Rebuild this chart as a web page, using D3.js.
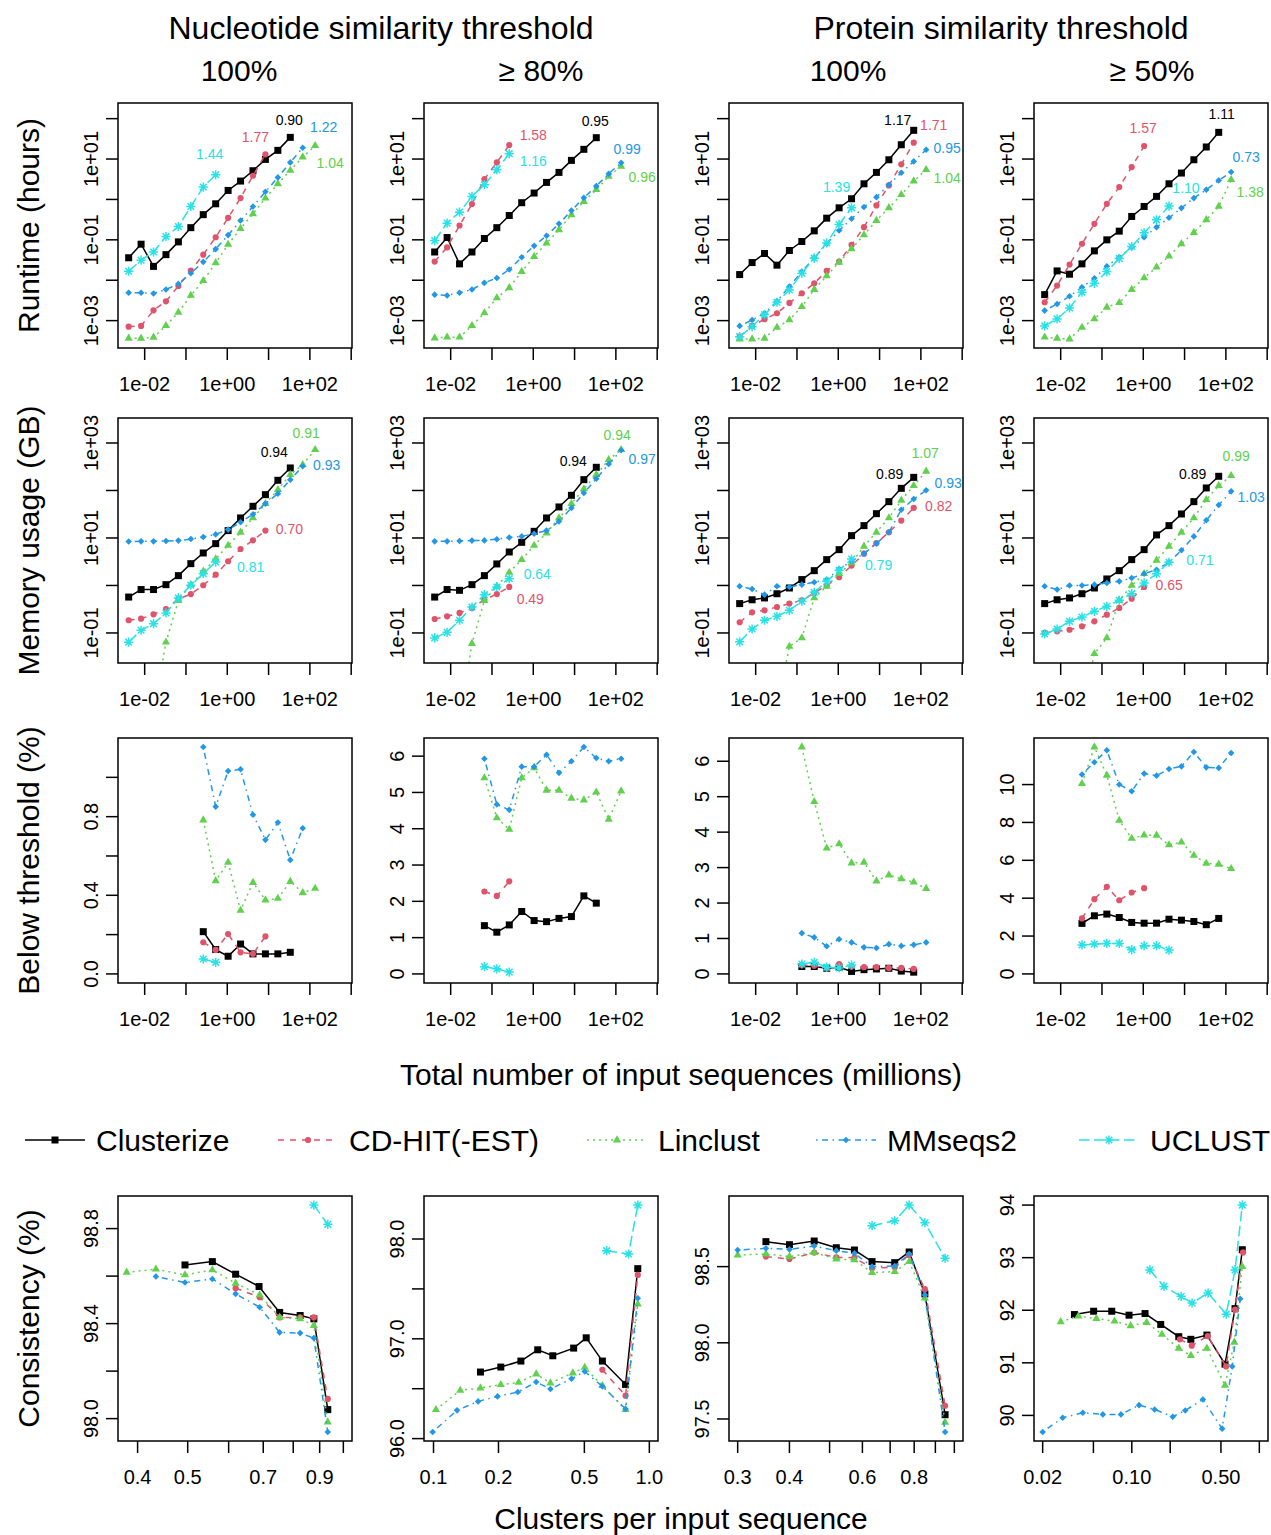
<!DOCTYPE html>
<html>
<head>
<meta charset="utf-8">
<script src="https://cdn.jsdelivr.net/npm/d3@7"></script>
<style>
  body { margin: 0; background: #fff; }
  text { font-family: "Liberation Sans", Arial, Helvetica, sans-serif; fill: #000; }
</style>
</head>
<body>
<div id="chart"></div>
<script>
// Clustering benchmark: runtime, memory, below threshold and consistency

const METHODS = ["Clusterize", "CD-HIT(-EST)", "Linclust", "MMseqs2", "UCLUST"]

// total number of input sequences (millions), shared x positions of rows 1-3
const INPUT_SIZES = [0.004096, 0.008192, 0.016384, 0.032768, 0.065536, 0.131072, 0.262144, 0.524288,
  1.048576, 2.097152, 4.194304, 8.388608, 16.78, 33.55, 67.11, 134.2]

// ---- Runtime (hours), one array per method ----
const runtimeNuc100 = [
  [0.036, 0.078, 0.022, 0.043, 0.089, 0.20, 0.42, 0.78, 1.67, 2.85, 5.14, 9.8, 16.4, 34.4],
  [0.00071, 0.00074, 0.0018, 0.0030, 0.0072, 0.0174, 0.043, 0.116, 0.35, 1.08, 3.86, 13.1],
  [0.000365, 0.000365, 0.000386, 0.00075, 0.0016, 0.0042, 0.0098, 0.027, 0.077, 0.19, 0.44, 1.08, 2.44, 5.24, 11.2, 21.4],
  [0.0049, 0.0049, 0.0047, 0.0059, 0.0081, 0.0149, 0.0285, 0.059, 0.131, 0.30, 0.67, 1.55, 3.51, 8.26, 19.1],
  [0.0167, 0.0313, 0.050, 0.121, 0.214, 0.67, 2.02, 4.09]
]
const runtimeNuc80 = [
  [0.050, 0.114, 0.0254, 0.050, 0.108, 0.20, 0.40, 0.83, 1.44, 2.64, 4.67, 9.27, 17.4, 33.8],
  [0.029, 0.065, 0.226, 0.766, 3.19, 8.26, 22.2],
  [0.00037, 0.00039, 0.00039, 0.00075, 0.00155, 0.00365, 0.0065, 0.0164, 0.0386, 0.0826, 0.177, 0.417, 0.89, 1.74, 3.72, 6.58],
  [0.0044, 0.0042, 0.0049, 0.0059, 0.0086, 0.0114, 0.0184, 0.037, 0.071, 0.126, 0.25, 0.53, 1.10, 2.14, 4.33, 8.11],
  [0.096, 0.259, 0.485, 1.19, 2.31, 5.45, 13.6]
]
const runtimeProt100 = [
  [0.0138, 0.0274, 0.0458, 0.0236, 0.0545, 0.091, 0.167, 0.344, 0.62, 1.04, 2.44, 4.67, 9.6, 22.6, 51.4],
  [0.0004, 0.00074, 0.00108, 0.00152, 0.00274, 0.00476, 0.0084, 0.017, 0.029, 0.075, 0.206, 0.71, 2.22, 7.38, 25.4],
  [0.00035, 0.00035, 0.000365, 0.00068, 0.00104, 0.00222, 0.0059, 0.0128, 0.0279, 0.060, 0.133, 0.301, 0.62, 1.31, 2.85, 5.45],
  [0.00074, 0.00104, 0.00152, 0.0030, 0.0070, 0.0164, 0.0358, 0.080, 0.170, 0.332, 0.65, 1.14, 2.31, 4.58, 8.75, 17.0],
  [0.0004, 0.00071, 0.00141, 0.00285, 0.00575, 0.0149, 0.0351, 0.084, 0.24, 0.62]
]
const runtimeProt50 = [
  [0.0044, 0.017, 0.0141, 0.0254, 0.0533, 0.1, 0.164, 0.379, 0.67, 1.19, 2.44, 4.5, 9.6, 19.9, 45.8],
  [0.00285, 0.00738, 0.0244, 0.080, 0.249, 0.78, 2.02, 6.34, 21.0],
  [0.00039, 0.000365, 0.00035, 0.00068, 0.0011, 0.00214, 0.00279, 0.0059, 0.0114, 0.021, 0.0394, 0.080, 0.152, 0.313, 0.67, 3.08],
  [0.00177, 0.00259, 0.00401, 0.0067, 0.0112, 0.0222, 0.0372, 0.0658, 0.116, 0.206, 0.351, 0.61, 1.08, 1.74, 2.96, 4.76],
  [0.00074, 0.0011, 0.00206, 0.00504, 0.0084, 0.0164, 0.0344, 0.0684, 0.149, 0.313, 0.684]
]
const runtimeStart = [0, 0, 0, 0, 0]
const runtimeExponents = [
  ["0.90", "1.77", "1.04", "1.22", "1.44"],
  ["0.95", "1.58", "0.96", "0.99", "1.16"],
  ["1.17", "1.71", "1.04", "0.95", "1.39"],
  ["1.11", "1.57", "1.38", "0.73", "1.10"]
]

// ---- Memory usage (GB) ----
const memoryNuc100 = [
  [0.57, 0.82, 0.82, 1.04, 1.61, 2.88, 4.83, 7.6, 14.3, 26.4, 46.5, 81.7, 164, 298],
  [0.185, 0.20, 0.247, 0.32, 0.52, 0.66, 1.01, 1.69, 3.23, 5.86, 8.93, 14.3],
  [0.002, 0.064, 0.48, 1.04, 1.99, 3.61, 7.0, 13.2, 26.4, 52.8, 104, 215, 350, 724],
  [8.4, 8.5, 8.5, 8.65, 8.8, 9.5, 10.5, 11.9, 15.0, 21.4, 31.5, 52.8, 85.7, 169, 323],
  [0.064, 0.114, 0.157, 0.264, 0.546, 1.01, 1.77, 3.13]
]
const memoryNuc80 = [
  [0.57, 0.82, 0.79, 1.04, 1.61, 2.84, 5.07, 8.1, 13.8, 26.4, 45.0, 79.1, 169, 308],
  [0.197, 0.224, 0.264, 0.336, 0.50, 0.66, 0.93],
  [0.0013, 0.06, 0.48, 0.96, 1.89, 3.5, 7.0, 12.7, 26.4, 52.8, 108, 215, 446, 724],
  [8.5, 8.5, 8.65, 8.8, 8.9, 9.4, 10.2, 10.8, 12.3, 14.3, 22.4, 42.9, 88.5, 177, 361, 701],
  [0.0785, 0.103, 0.185, 0.352, 0.64, 0.93, 1.39]
]
const memoryProt100 = [
  [0.415, 0.50, 0.546, 0.67, 0.885, 1.33, 2.05, 3.5, 5.68, 11.2, 18.2, 32.5, 58.2, 111, 189],
  [0.168, 0.272, 0.30, 0.352, 0.415, 0.488, 0.695, 1.0, 1.49, 2.62, 4.68, 7.85, 13.2, 23.2, 42.9],
  [0.0025, 0.052, 0.0785, 0.546, 0.96, 1.77, 2.98, 6.68, 13.2, 26.4, 62.1, 126, 254],
  [0.96, 0.84, 0.64, 0.96, 0.93, 1.04, 1.17, 1.33, 2.22, 3.23, 4.68, 7.6, 13.2, 39.4, 66.2, 101],
  [0.065, 0.121, 0.185, 0.224, 0.30, 0.465, 0.718, 1.22, 2.08, 3.61]
]
const memoryProt50 = [
  [0.415, 0.50, 0.546, 0.67, 0.885, 1.37, 2.05, 3.5, 5.68, 11.6, 18.2, 32.0, 58.2, 113, 199],
  [0.10, 0.108, 0.117, 0.138, 0.176, 0.243, 0.336, 0.528, 0.93],
  [0.0025, 0.0367, 0.0785, 0.488, 1.0, 1.77, 3.39, 6.68, 13.2, 26.4, 64.1, 126, 205],
  [0.96, 0.82, 1.0, 1.0, 1.04, 1.13, 1.22, 1.44, 1.77, 2.15, 3.08, 5.5, 10.8, 23.6, 49.5, 95.9],
  [0.0953, 0.121, 0.176, 0.217, 0.286, 0.364, 0.488, 0.673, 1.13, 1.77, 3.08]
]
const memoryStartNuc = [0, 0, 2, 0, 0]
const memoryStartProt = [0, 0, 3, 0, 0]
const memoryExponents = [
  ["0.94", "0.70", "0.91", "0.93", "0.81"],
  ["0.94", "0.49", "0.94", "0.97", "0.64"],
  ["0.89", "0.82", "1.07", "0.93", "0.79"],
  ["0.89", "0.65", "0.99", "1.03", "0.71"]
]

// ---- Below threshold (%) ----
const belowNuc100 = [
  [0.215, 0.124, 0.09, 0.152, 0.102, 0.102, 0.102, 0.11],
  [0.161, 0.122, 0.203, 0.11, 0.102, 0.191],
  [0.783, 0.474, 0.567, 0.323, 0.465, 0.376, 0.384, 0.47, 0.413, 0.435],
  [1.154, 0.851, 1.032, 1.041, 0.81, 0.682, 0.77, 0.58, 0.741],
  [0.076, 0.059]
]
const belowNuc80 = [
  [1.33, 1.15, 1.35, 1.72, 1.47, 1.44, 1.53, 1.58, 2.15, 1.95],
  [2.27, 2.15, 2.55],
  [5.40, 4.30, 3.98, 5.40, 5.68, 5.06, 5.06, 4.84, 4.79, 5.01, 4.26, 5.04],
  [5.93, 4.67, 4.52, 5.71, 5.71, 6.04, 5.54, 5.86, 6.25, 5.95, 5.86, 5.93],
  [0.20, 0.14, 0.05]
]
const belowProt100 = [
  [0.21, 0.21, 0.16, 0.19, 0.07, 0.12, 0.14, 0.16, 0.08, 0.05],
  [0.25, 0.23, 0.16, 0.28, 0.21, 0.19, 0.19, 0.17, 0.17, 0.14],
  [6.40, 4.86, 3.55, 3.67, 3.13, 3.15, 2.62, 2.79, 2.68, 2.59, 2.41],
  [1.15, 1.03, 0.78, 0.98, 0.89, 0.75, 0.73, 0.84, 0.79, 0.82, 0.89],
  [0.28, 0.33, 0.19, 0.17, 0.25]
]
const belowProt50 = [
  [2.67, 3.07, 3.16, 2.98, 2.72, 2.68, 2.68, 2.89, 2.84, 2.77, 2.60, 2.93],
  [2.93, 3.95, 4.60, 3.89, 4.30, 4.53],
  [10.05, 11.98, 10.49, 8.11, 7.16, 7.33, 7.32, 6.81, 6.96, 6.26, 5.84, 5.79, 5.56],
  [10.53, 11.18, 11.81, 10.0, 9.65, 10.58, 10.47, 10.82, 10.96, 11.72, 10.91, 10.88, 11.67],
  [1.53, 1.58, 1.61, 1.61, 1.28, 1.49, 1.49, 1.26]
]
const belowStart = [6, 4, 5, 3]

// ---- Consistency (%) vs clusters per input sequence ----
const consistNuc100X = [
  [0.494, 0.558, 0.619, 0.687, 0.753, 0.825, 0.877, 0.933],
  [0.619, 0.689, 0.753, 0.825, 0.877, 0.933],
  [0.381, 0.434, 0.494, 0.558, 0.619, 0.689, 0.753, 0.825, 0.877, 0.933],
  [0.434, 0.494, 0.558, 0.619, 0.689, 0.753, 0.825, 0.877, 0.933],
  [0.877, 0.933]
]
const consistNuc100Y = [
  [98.647, 98.661, 98.608, 98.556, 98.447, 98.434, 98.42, 98.038],
  [98.549, 98.511, 98.426, 98.426, 98.426, 98.083],
  [98.616, 98.629, 98.605, 98.626, 98.57, 98.521, 98.426, 98.42, 98.392, 97.985],
  [98.598, 98.573, 98.588, 98.525, 98.469, 98.363, 98.36, 98.339, 97.944],
  [98.899, 98.818]
]
const consistNuc80X = [
  [0.165, 0.205, 0.254, 0.304, 0.357, 0.446, 0.51, 0.606, 0.776, 0.884],
  [0.606, 0.776, 0.884],
  [0.1026, 0.133, 0.165, 0.205, 0.248, 0.299, 0.348, 0.442, 0.502, 0.606, 0.776, 0.884],
  [0.0991, 0.1285, 0.161, 0.198, 0.246, 0.299, 0.348, 0.436, 0.502, 0.606, 0.776, 0.884],
  [0.634, 0.801, 0.884]
]
const consistNuc80Y = [
  [96.667, 96.717, 96.777, 96.89, 96.83, 96.907, 97.01, 96.777, 96.543, 97.703],
  [96.69, 96.43, 97.64],
  [96.29, 96.483, 96.507, 96.54, 96.563, 96.647, 96.557, 96.657, 96.713, 96.53, 96.29, 97.347],
  [96.067, 96.283, 96.373, 96.423, 96.467, 96.567, 96.497, 96.6, 96.673, 96.523, 96.297, 97.407],
  [97.883, 97.85, 98.34]
]
const consistProt100X = [
  [0.351, 0.4, 0.459, 0.519, 0.574, 0.633, 0.718, 0.778, 0.849, 0.95],
  [0.351, 0.4, 0.459, 0.519, 0.574, 0.633, 0.718, 0.778, 0.849, 0.95],
  [0.3, 0.351, 0.4, 0.459, 0.519, 0.574, 0.633, 0.718, 0.778, 0.849, 0.95],
  [0.3, 0.351, 0.4, 0.459, 0.519, 0.574, 0.633, 0.718, 0.778, 0.849, 0.95],
  [0.633, 0.718, 0.778, 0.849, 0.95]
]
const consistProt100Y = [
  [98.664, 98.644, 98.668, 98.624, 98.609, 98.533, 98.526, 98.596, 98.321, 97.528],
  [98.566, 98.55, 98.592, 98.561, 98.559, 98.489, 98.496, 98.576, 98.352, 97.587],
  [98.576, 98.583, 98.566, 98.592, 98.55, 98.544, 98.461, 98.467, 98.533, 98.293, 97.478],
  [98.609, 98.62, 98.613, 98.635, 98.605, 98.587, 98.5, 98.504, 98.583, 98.314, 97.415],
  [98.769, 98.801, 98.904, 98.788, 98.555]
]
const consistProt50X = [
  [0.0355, 0.0502, 0.0696, 0.0951, 0.127, 0.1686, 0.2335, 0.2903, 0.388, 0.538, 0.645, 0.735],
  [0.2382, 0.295, 0.394, 0.549, 0.645, 0.745],
  [0.0277, 0.0381, 0.0528, 0.0732, 0.0979, 0.1308, 0.1722, 0.2335, 0.2903, 0.388, 0.538, 0.636, 0.735],
  [0.02, 0.0287, 0.0413, 0.0593, 0.0822, 0.114, 0.151, 0.2095, 0.2624, 0.3609, 0.511, 0.613, 0.708],
  [0.1386, 0.1786, 0.244, 0.2967, 0.3966, 0.5497, 0.645, 0.735]
]
const consistProt50Y = [
  [91.918, 91.981, 91.981, 91.906, 91.937, 91.73, 91.497, 91.447, 91.528, 90.975, 92.031, 93.151],
  [91.447, 91.327, 91.509, 90.931, 92.013, 93.1],
  [91.78, 91.887, 91.843, 91.792, 91.704, 91.767, 91.541, 91.277, 91.138, 91.277, 90.572, 91.39, 92.83],
  [89.686, 89.956, 90.05, 90.019, 90.019, 90.195, 90.113, 89.975, 90.094, 90.302, 89.748, 90.931, 92.22],
  [92.767, 92.453, 92.264, 92.138, 92.327, 91.925, 92.767, 94.0]
]

// ---- tick values and labels ----
const sizeTicks = [0.01, 0.1, 1, 10, 100, 1000]
const sizeTickLabels = ["1e-02", "", "1e+00", "", "1e+02", ""]
const runtimeTicks = [0.001, 0.01, 0.1, 1, 10, 100]
const runtimeTickLabels = ["1e-03", "", "1e-01", "", "1e+01", ""]
const memoryTicks = [0.1, 1, 10, 100, 1000]
const memoryTickLabels = ["1e-01", "", "1e+01", "", "1e+03"]
const belowTicks = [[0, 0.2, 0.4, 0.6, 0.8, 1.0], [0, 1, 2, 3, 4, 5, 6], [0, 1, 2, 3, 4, 5, 6], [0, 2, 4, 6, 8, 10]]
const belowTickLabels = [["0.0", "", "0.4", "", "0.8", ""], ["0", "1", "2", "3", "4", "5", "6"],
  ["0", "1", "2", "3", "4", "5", "6"], ["0", "2", "4", "6", "8", "10"]]
const clusterTicks = [[0.4, 0.5, 0.6, 0.7, 0.8, 0.9, 1.0], [0.1, 0.2, 0.5, 1.0],
  [0.3, 0.4, 0.5, 0.6, 0.7, 0.8, 0.9, 1.0], [0.02, 0.05, 0.1, 0.2, 0.5, 1.0]]
const clusterTickLabels = [["0.4", "0.5", "", "0.7", "", "0.9", ""], ["0.1", "0.2", "0.5", "1.0"],
  ["0.3", "0.4", "", "0.6", "", "0.8", "", ""], ["0.02", "", "0.10", "", "0.50", ""]]
const consistTicks = [[98.0, 98.2, 98.4, 98.6, 98.8], [96.0, 96.5, 97.0, 97.5, 98.0], [97.5, 98.0, 98.5], [90, 91, 92, 93, 94]]
const consistTickLabels = [["98.0", "", "98.4", "", "98.8"], ["96.0", "", "97.0", "", "98.0"],
  ["97.5", "98.0", "98.5"], ["90", "91", "92", "93", "94"]]

// ---- layout ----
const WIDTH = 1271
const HEIGHT = 1535
const COL_LEFT = [118, 424, 729, 1034]
const ROW_TOP = [103, 418, 738, 1196]
const BOX_W = 234
const BOX_H = 245
const SIZE_DOMAIN = [0.00226, 1047]
const RUNTIME_DOMAIN = [0.00021, 244]
const MEMORY_DOMAIN = [0.0233, 3360]

const COLORS = ["#000000", "#DF536B", "#61D04F", "#2297E6", "#28E2E5"]
const DASHES = [null, "6,6", "2,4", "1.5,4.5,6,4.5", "10.5,4.5"]
const LINE_W = 1.5
const MARKERS = [
  "M-3.5,-3.5h7v7h-7z",
  d3.symbol(d3.symbolCircle, 30)(),
  "M0,-4.7L4.1,2.4L-4.1,2.4Z",
  "M0,-3.3L3.3,0L0,3.3L-3.3,0Z",
  "M-4.6,0H4.6M0,-4.6V4.6M-3.3,-3.3L3.3,3.3M-3.3,3.3L3.3,-3.3"
]

// offsets (px) of the exponent labels from each series' last point
const runtimeLabelOffset = [
  [[-1, -17], [-10, -17], [15, 17], [21, -21], [-6, -21]],
  [[-1, -17], [24, -10], [21, 11], [6, -14], [24, 7]],
  [[-16, -10], [20, -18], [21, 8], [21, -2], [-15, -21]],
  [[3, -18], [-1, -18], [19, 12], [15, -15], [17, -18]]
]
const memoryLabelOffset = [
  [[-16, -16], [24, -2], [-9, -17], [24, -1], [35, 5]],
  [[-23, -6], [21, 12], [-4, -15], [21, 9], [28, -5]],
  [[-24, -3], [25, -2], [-1, -18], [22, -7], [27, 6]],
  [[-26, -2], [25, -2], [5, -20], [20, 6], [31, -2]]
]

const SVG = d3.select("#chart")
  .append("svg")
  .attr("width", WIDTH)
  .attr("height", HEIGHT)

SVG.append("rect").attr("width", WIDTH).attr("height", HEIGHT).attr("fill", "#fff")

// R style range padding (4% each side)
function rPad(lo, hi) {
  const d = (hi - lo) * 0.04
  return [lo - d, hi + d]
}

function drawPanel(row, col, p) {
  const left = COL_LEFT[col]
  const top = ROW_TOP[row]
  const right = left + BOX_W
  const bottom = top + BOX_H
  const x = p.x.range([left, right])
  const y = p.y.range([bottom, top])

  const clipId = `clip-${row}-${col}`
  SVG.append("clipPath").attr("id", clipId)
    .append("rect")
    .attr("x", left).attr("y", top)
    .attr("width", BOX_W).attr("height", BOX_H)

  const plot = SVG.append("g").attr("clip-path", `url(#${clipId})`)
  const line = d3.line().x(d => x(d.x)).y(d => y(d.y))

  p.series.forEach((s, m) => {
    const pts = s.x.map((v, i) => ({ x: v, y: s.y[i] }))
    plot.append("path")
      .datum(pts)
      .attr("fill", "none")
      .attr("stroke", COLORS[m])
      .attr("stroke-width", LINE_W)
      .attr("stroke-dasharray", DASHES[m])
      .attr("d", line)
    plot.selectAll(null)
      .data(pts)
      .join("path")
      .attr("transform", d => `translate(${x(d.x)},${y(d.y)})`)
      .attr("d", MARKERS[m])
      .attr("fill", m == 4 ? "none" : COLORS[m])
      .attr("stroke", m == 4 ? COLORS[m] : "none")
      .attr("stroke-width", 1.5)

    if (p.labels) {
      const last = pts[pts.length - 1]
      const off = p.labelOffsets[m]
      SVG.append("text")
        .text(p.labels[m])
        .attr("x", x(last.x) + off[0])
        .attr("y", y(last.y) + off[1] + 5)
        .attr("text-anchor", "middle")
        .attr("font-size", 14)
        .style("fill", COLORS[m])
    }
  })

  // box
  SVG.append("rect")
    .attr("x", left).attr("y", top)
    .attr("width", BOX_W).attr("height", BOX_H)
    .attr("fill", "none")
    .attr("stroke", "#000")
    .attr("stroke-width", 1.5)

  // x axis
  const gx = SVG.append("g")
  p.xTicks.forEach((t, i) => {
    gx.append("line")
      .attr("x1", x(t)).attr("x2", x(t))
      .attr("y1", bottom).attr("y2", bottom + 12)
      .attr("stroke", "#000").attr("stroke-width", 1.5)
    if (p.xLabels[i]) {
      gx.append("text")
        .text(p.xLabels[i])
        .attr("x", x(t)).attr("y", bottom + 43)
        .attr("text-anchor", "middle")
        .attr("font-size", 20)
    }
  })

  // y axis
  const gy = SVG.append("g")
  p.yTicks.forEach((t, i) => {
    gy.append("line")
      .attr("x1", left).attr("x2", left - 12)
      .attr("y1", y(t)).attr("y2", y(t))
      .attr("stroke", "#000").attr("stroke-width", 1.5)
    if (p.yLabels[i]) {
      gy.append("text")
        .text(p.yLabels[i])
        .attr("transform", `translate(${left - 20},${y(t)}) rotate(-90)`)
        .attr("text-anchor", "middle")
        .attr("font-size", 20)
    }
  })
}

function sizeSeries(values, start) {
  return values.map((v, m) => ({ x: INPUT_SIZES.slice(start[m], start[m] + v.length), y: v }))
}

// row 1: runtime
const runtimeData = [runtimeNuc100, runtimeNuc80, runtimeProt100, runtimeProt50]
runtimeData.forEach((vals, c) => {
  drawPanel(0, c, {
    x: d3.scaleLog().domain(SIZE_DOMAIN),
    y: d3.scaleLog().domain(RUNTIME_DOMAIN),
    series: sizeSeries(vals, runtimeStart),
    labels: runtimeExponents[c],
    labelOffsets: runtimeLabelOffset[c],
    xTicks: sizeTicks, xLabels: sizeTickLabels,
    yTicks: runtimeTicks, yLabels: runtimeTickLabels
  })
})

// row 2: memory
const memoryData = [memoryNuc100, memoryNuc80, memoryProt100, memoryProt50]
memoryData.forEach((vals, c) => {
  drawPanel(1, c, {
    x: d3.scaleLog().domain(SIZE_DOMAIN),
    y: d3.scaleLog().domain(MEMORY_DOMAIN),
    series: sizeSeries(vals, c < 2 ? memoryStartNuc : memoryStartProt),
    labels: memoryExponents[c],
    labelOffsets: memoryLabelOffset[c],
    xTicks: sizeTicks, xLabels: sizeTickLabels,
    yTicks: memoryTicks, yLabels: memoryTickLabels
  })
})

// row 3: below threshold
const belowData = [belowNuc100, belowNuc80, belowProt100, belowProt50]
belowData.forEach((vals, c) => {
  const maxV = d3.max(vals.flat())
  drawPanel(2, c, {
    x: d3.scaleLog().domain(SIZE_DOMAIN),
    y: d3.scaleLinear().domain(rPad(0, maxV)),
    series: sizeSeries(vals, vals.map(() => belowStart[c])),
    xTicks: sizeTicks, xLabels: sizeTickLabels,
    yTicks: belowTicks[c], yLabels: belowTickLabels[c]
  })
})

// row 4: consistency
const consistX = [consistNuc100X, consistNuc80X, consistProt100X, consistProt50X]
const consistY = [consistNuc100Y, consistNuc80Y, consistProt100Y, consistProt50Y]
consistX.forEach((xs, c) => {
  const ys = consistY[c]
  const lx = rPad(Math.log10(d3.min(xs.flat())), 0)
  drawPanel(3, c, {
    x: d3.scaleLog().domain([10 ** lx[0], 10 ** lx[1]]),
    y: d3.scaleLinear().domain(rPad(d3.min(ys.flat()), d3.max(ys.flat()))),
    series: xs.map((xv, m) => ({ x: xv, y: ys[m] })),
    xTicks: clusterTicks[c], xLabels: clusterTickLabels[c],
    yTicks: consistTicks[c], yLabels: consistTickLabels[c]
  })
})

// titles
const titles = [
  { t: "Nucleotide similarity threshold", x: 381, y: 39, s: 32 },
  { t: "Protein similarity threshold", x: 1001, y: 39, s: 32 },
  { t: "100%", x: 239, y: 81, s: 30 },
  { t: "\u2265 80%", x: 541, y: 81, s: 30 },
  { t: "100%", x: 848, y: 81, s: 30 },
  { t: "\u2265 50%", x: 1152, y: 81, s: 30 },
  { t: "Total number of input sequences (millions)", x: 681, y: 1085, s: 30 },
  { t: "Clusters per input sequence", x: 681, y: 1529, s: 30 }
]
SVG.selectAll("text.title")
  .data(titles)
  .join("text")
  .attr("class", "title")
  .text(d => d.t)
  .attr("x", d => d.x)
  .attr("y", d => d.y)
  .attr("text-anchor", "middle")
  .attr("font-size", d => d.s)

const rowTitles = ["Runtime (hours)", "Memory usage (GB)", "Below threshold (%)", "Consistency (%)"]
SVG.selectAll("text.row-title")
  .data(rowTitles)
  .join("text")
  .attr("class", "row-title")
  .text(d => d)
  .attr("transform", (d, i) => `translate(39,${ROW_TOP[i] + BOX_H / 2}) rotate(-90)`)
  .attr("text-anchor", "middle")
  .attr("font-size", 30)

// legend
const LEGEND_Y = 1140
const legendTextX = [96, 349, 658, 887, 1150]
const legend = SVG.selectAll("g.legend")
  .data(METHODS)
  .join("g")
  .attr("class", "legend")
legend.append("line")
  .attr("x1", (d, i) => legendTextX[i] - 71)
  .attr("x2", (d, i) => legendTextX[i] - 11)
  .attr("y1", LEGEND_Y).attr("y2", LEGEND_Y)
  .attr("stroke", (d, i) => COLORS[i])
  .attr("stroke-width", LINE_W)
  .attr("stroke-dasharray", (d, i) => DASHES[i])
legend.append("path")
  .attr("transform", (d, i) => `translate(${legendTextX[i] - 41},${LEGEND_Y})`)
  .attr("d", (d, i) => MARKERS[i])
  .attr("fill", (d, i) => i == 4 ? "none" : COLORS[i])
  .attr("stroke", (d, i) => i == 4 ? COLORS[i] : "none")
  .attr("stroke-width", 1.5)
legend.append("text")
  .text(d => d)
  .attr("x", (d, i) => legendTextX[i])
  .attr("y", LEGEND_Y + 11)
  .attr("font-size", 30)
</script>
</body>
</html>
